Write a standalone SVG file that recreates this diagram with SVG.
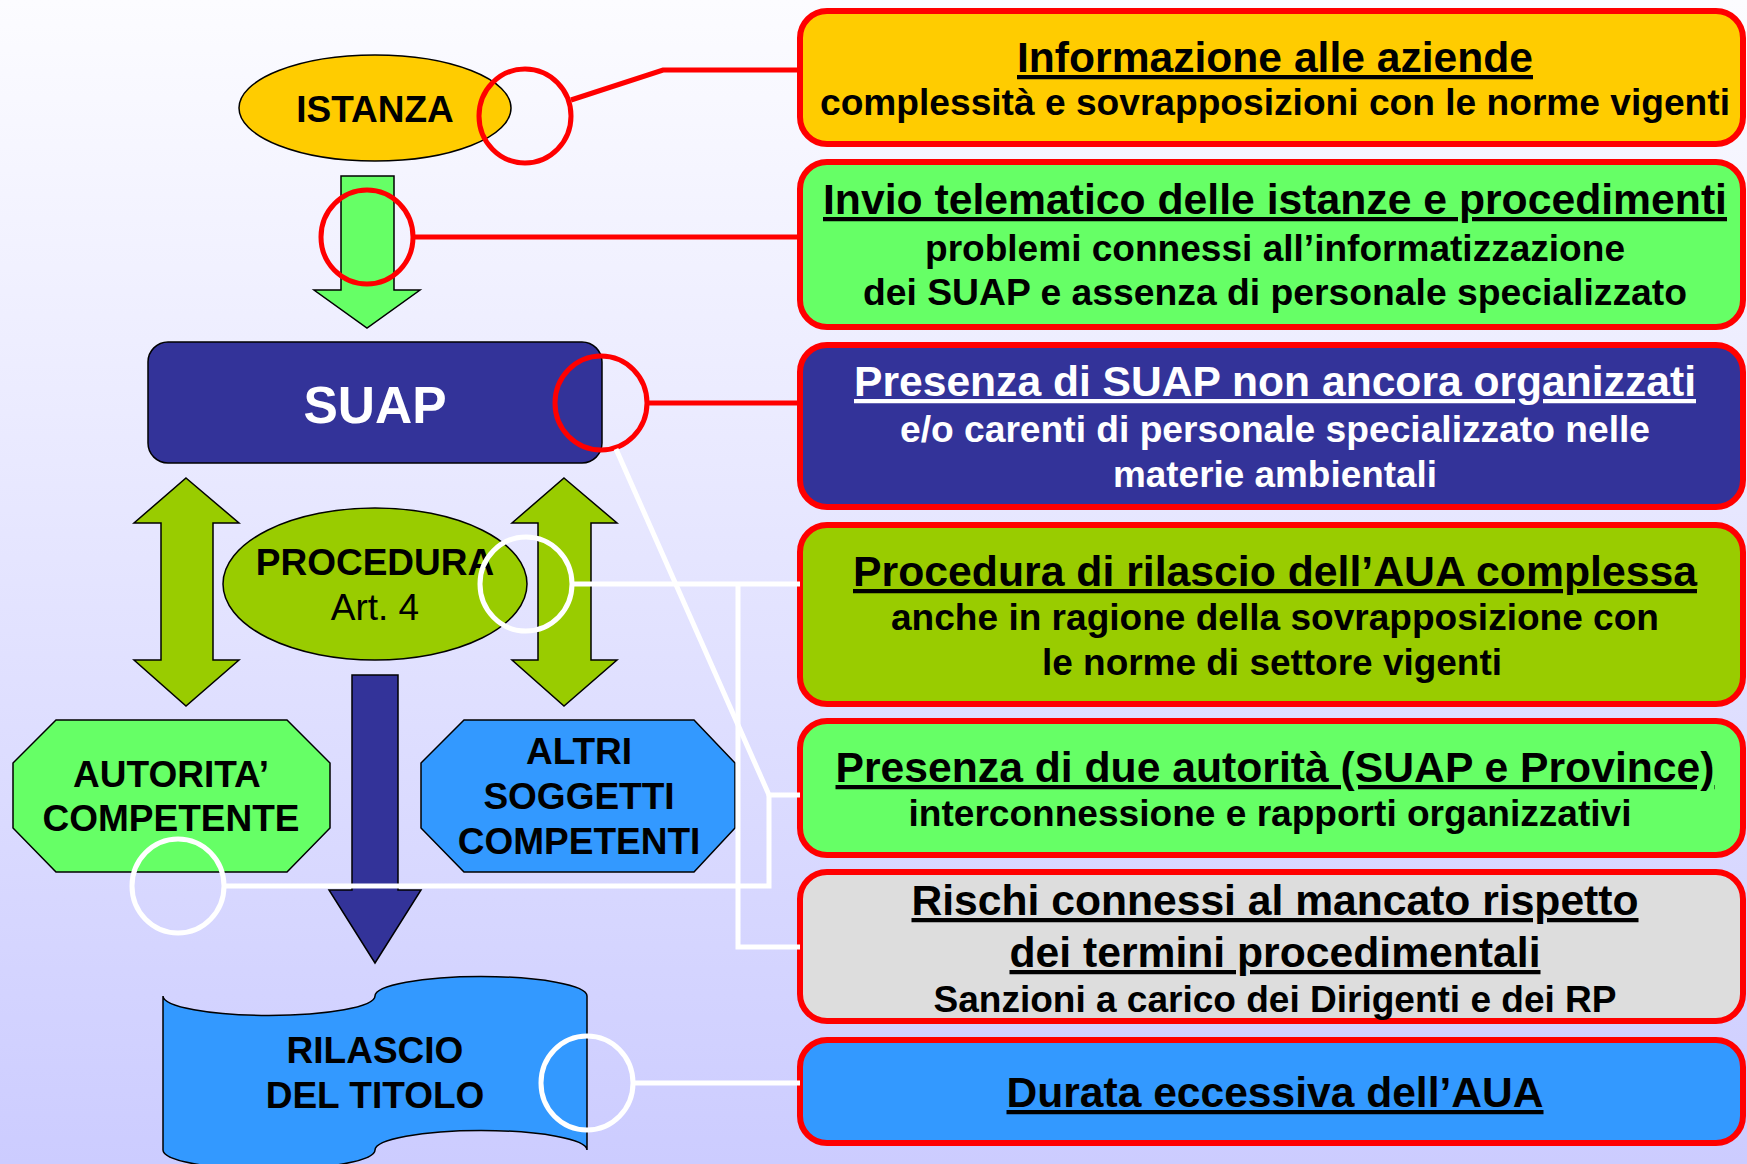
<svg xmlns="http://www.w3.org/2000/svg" width="1747" height="1164" viewBox="0 0 1747 1164">
<defs>
<linearGradient id="bg" x1="0" y1="0" x2="0" y2="1">
<stop offset="0" stop-color="#fcfcff"/>
<stop offset="1" stop-color="#ccccff"/>
</linearGradient>
<style>
text{font-family:"Liberation Sans",Arial,sans-serif;font-weight:bold;text-anchor:middle}
.lbl{font-size:37px;fill:#000}
.reg{font-weight:normal}
.shape{stroke:#000;stroke-width:1.5}
.box{stroke:#ff0000;stroke-width:6}
.t{font-size:42.5px;text-decoration:underline;text-decoration-thickness:4px;text-underline-offset:4px}
.s{font-size:37px}
.w{fill:#fff}
.red{fill:none;stroke:#ff0000;stroke-width:5}
.wht{fill:none;stroke:#fff;stroke-width:5}
</style>
</defs>
<rect x="0" y="0" width="1747" height="1164" fill="url(#bg)"/>

<g id="flow-arrows">
<polygon class="shape" fill="#66ff66" points="341,176 394,176 394,290 420,290 367,328 314,290 341,290"/>
<polygon class="shape" fill="#99cc00" points="186,478 239,523 213,523 213,660 239,660 186,706 134,660 161,660 161,523 134,523"/>
<polygon class="shape" fill="#99cc00" points="564,478 617,523 591,523 591,660 617,660 564,706 512,660 538,660 538,523 512,523"/>
<polygon class="shape" fill="#333399" points="352,675 398,675 398,890 421,890 375,963 329,890 352,890"/>
</g>

<g id="istanza">
<ellipse class="shape" cx="375" cy="108" rx="136" ry="53" fill="#ffcc00"/>
<text class="lbl" x="375" y="122">ISTANZA</text>
</g>

<g id="suap">
<rect class="shape" x="148" y="342" width="454" height="121" rx="20" fill="#333399"/>
<text x="375" y="423" font-size="51.5" fill="#fff">SUAP</text>
</g>

<g id="procedura">
<ellipse class="shape" cx="375" cy="584" rx="152" ry="76" fill="#99cc00"/>
<text class="lbl" x="375" y="575">PROCEDURA</text>
<text class="lbl reg" x="375" y="620">Art. 4</text>
</g>

<g id="autorita">
<polygon class="shape" fill="#66ff66" points="56,720 287,720 330,763 330,828 287,872 56,872 13,828 13,763"/>
<text class="lbl" x="171" y="787">AUTORITA’</text>
<text class="lbl" x="171" y="831">COMPETENTE</text>
</g>

<g id="altri">
<polygon class="shape" fill="#3399ff" points="464,720 694,720 735,763 735,828 694,872 464,872 421,828 421,763"/>
<text class="lbl" x="579" y="764">ALTRI</text>
<text class="lbl" x="579" y="809">SOGGETTI</text>
<text class="lbl" x="579" y="854">COMPETENTI</text>
</g>

<g id="rilascio">
<path class="shape" fill="#3399ff" d="M163,996 A106,19.5 0 0 0 375,996 A106,19.5 0 0 1 587,996 L587,1150 A106,19.5 0 0 0 375,1150 A106,19.5 0 0 1 163,1150 Z"/>
<text class="lbl" x="375" y="1063">RILASCIO</text>
<text class="lbl" x="375" y="1108">DEL TITOLO</text>
</g>

<g id="box-informazione">
<rect class="box" x="800" y="11" width="943" height="133" rx="27" fill="#ffcc00"/>
<text class="t" x="1275" y="72" textLength="516" lengthAdjust="spacingAndGlyphs">Informazione alle aziende</text>
<text class="s" x="1275" y="115" textLength="910" lengthAdjust="spacingAndGlyphs">complessità e sovrapposizioni con le norme vigenti</text>
</g>

<g id="box-invio">
<rect class="box" x="800" y="162" width="943" height="165" rx="27" fill="#66ff66"/>
<text class="t" x="1275" y="214" textLength="904" lengthAdjust="spacingAndGlyphs">Invio telematico delle istanze e procedimenti</text>
<text class="s" x="1275" y="261" textLength="700" lengthAdjust="spacingAndGlyphs">problemi connessi all’informatizzazione</text>
<text class="s" x="1275" y="305" textLength="824" lengthAdjust="spacingAndGlyphs">dei SUAP e assenza di personale specializzato</text>
</g>

<g id="box-presenza-suap">
<rect class="box" x="800" y="345" width="943" height="162" rx="27" fill="#333399"/>
<text class="t w" x="1275" y="396" textLength="842" lengthAdjust="spacingAndGlyphs">Presenza di SUAP non ancora organizzati</text>
<text class="s w" x="1275" y="442" textLength="750" lengthAdjust="spacingAndGlyphs">e/o carenti di personale specializzato nelle</text>
<text class="s w" x="1275" y="487" textLength="324" lengthAdjust="spacingAndGlyphs">materie ambientali</text>
</g>

<g id="box-procedura">
<rect class="box" x="800" y="525" width="943" height="179" rx="27" fill="#99cc00"/>
<text class="t" x="1275" y="586" textLength="844" lengthAdjust="spacingAndGlyphs">Procedura di rilascio dell’AUA complessa</text>
<text class="s" x="1275" y="630" textLength="768" lengthAdjust="spacingAndGlyphs">anche in ragione della sovrapposizione con</text>
<text class="s" x="1272" y="675" textLength="460" lengthAdjust="spacingAndGlyphs">le norme di settore vigenti</text>
</g>

<g id="box-due-autorita">
<rect class="box" x="800" y="721" width="943" height="134" rx="27" fill="#66ff66"/>
<text class="t" x="1275" y="782" textLength="879" lengthAdjust="spacingAndGlyphs">Presenza di due autorità (SUAP e Province)</text>
<text class="s" x="1270" y="826" textLength="723" lengthAdjust="spacingAndGlyphs">interconnessione e rapporti organizzativi</text>
</g>

<g id="box-rischi">
<rect class="box" x="800" y="872" width="943" height="149" rx="27" fill="#dddddd"/>
<text class="t" x="1275" y="915" textLength="727" lengthAdjust="spacingAndGlyphs">Rischi connessi al mancato rispetto</text>
<text class="t" x="1275" y="967" textLength="531" lengthAdjust="spacingAndGlyphs">dei termini procedimentali</text>
<text class="s" x="1275" y="1012" textLength="683" lengthAdjust="spacingAndGlyphs">Sanzioni a carico dei Dirigenti e dei RP</text>
</g>

<g id="box-durata">
<rect class="box" x="800" y="1040" width="943" height="103" rx="27" fill="#3399ff"/>
<text class="t" x="1275" y="1107" textLength="537" lengthAdjust="spacingAndGlyphs">Durata eccessiva dell’AUA</text>
</g>

<g id="connectors">
<polyline class="red" points="571,100 663,70 800,70"/>
<line class="red" x1="413" y1="237" x2="800" y2="237"/>
<line class="red" x1="648" y1="403" x2="800" y2="403"/>
<ellipse class="red" cx="525" cy="116" rx="46" ry="47"/>
<ellipse class="red" cx="367" cy="237" rx="46" ry="47"/>
<ellipse class="red" cx="601" cy="403" rx="46" ry="47"/>
<polyline class="wht" points="572,584 800,584"/>
<polyline class="wht" points="738,584 738,947 800,947"/>
<polyline class="wht" points="616,449 769,795 800,795"/>
<polyline class="wht" points="224,886 769,886 769,795"/>
<line class="wht" x1="634" y1="1083" x2="800" y2="1083"/>
<ellipse class="wht" cx="526" cy="584" rx="46" ry="47"/>
<ellipse class="wht" cx="178" cy="886" rx="46" ry="47"/>
<ellipse class="wht" cx="587" cy="1083" rx="46" ry="47"/>
</g>
</svg>
